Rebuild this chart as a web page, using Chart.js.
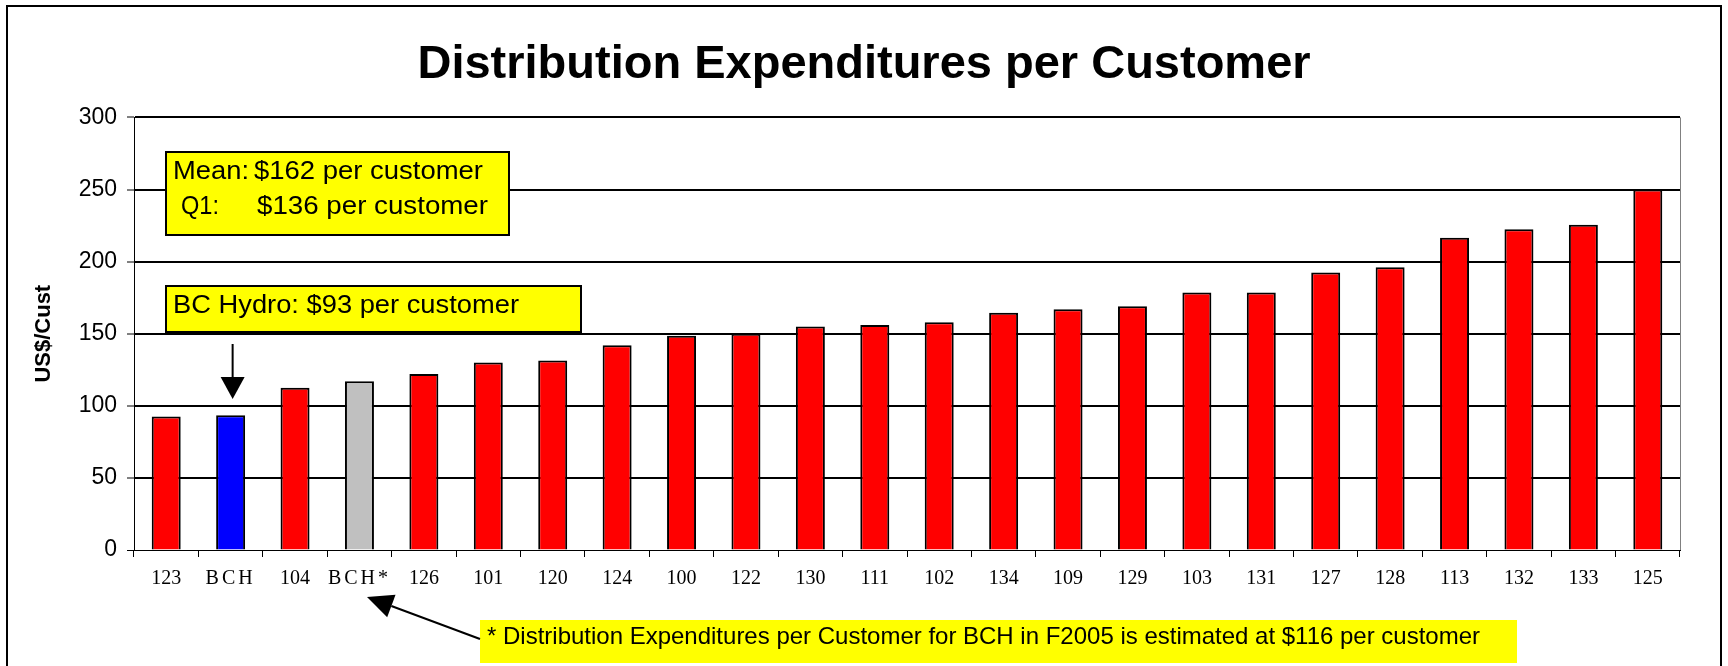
<!DOCTYPE html>
<html>
<head>
<meta charset="utf-8">
<title>Distribution Expenditures per Customer</title>
<script src="https://cdn.jsdelivr.net/npm/chart.js@4"></script>
<style>
  html, body { margin: 0; padding: 0; background: #fff; }
</style>
</head>
<body>
<canvas id="distChart" width="1728" height="666"></canvas>
<script>
// utilities, sorted by cost
const utilities = ['123', 'BCH', '104', 'BCH*', '126', '101', '120', '124', '100', '122', '130', '111',
                   '102', '134', '109', '129', '103', '131', '127', '128', '113', '132', '133', '125'];
// US$ per customer
const costPerCustomer = [92.5, 93.5, 112.5, 117, 122, 130, 131.5, 142, 148.5, 150, 155, 156,
                         158, 164.5, 167, 169, 178.5, 178.5, 192.5, 196, 216.5, 222.5, 225.5, 250];
const yMin = 0, yMax = 300, yStep = 50;

const meanLine = ['Mean:', '$162 per customer'];
const q1Line = ['Q1:', '$136 per customer'];
const bchNote = 'BC Hydro: $93 per customer';
const footNote = '* Distribution Expenditures per Customer for BCH in F2005 is estimated at $116 per customer';

const barColors = utilities.map(u => u === 'BCH' ? '#0000ff' : (u === 'BCH*' ? '#c0c0c0' : '#ff0000'));

const SANS = "'Liberation Sans', Arial, sans-serif";
const SERIF = "'Liberation Serif', 'Times New Roman', serif";

// draw text squeezed/stretched to a given width
function fitText(ctx, str, x, baseline, width) {
    const w = ctx.measureText(str).width;
    ctx.save();
    ctx.translate(x, baseline);
    ctx.scale(width / w, 1);
    ctx.fillText(str, 0, 0);
    ctx.restore();
}

function arrow(ctx, x1, y1, x2, y2, headLen, headW) {
    const a = Math.atan2(y2 - y1, x2 - x1);
    const bx = x2 - headLen * Math.cos(a), by = y2 - headLen * Math.sin(a);
    ctx.beginPath();
    ctx.moveTo(x1, y1);
    ctx.lineTo(bx, by);
    ctx.stroke();
    ctx.beginPath();
    ctx.moveTo(x2, y2);
    ctx.lineTo(bx + headW / 2 * Math.sin(a), by - headW / 2 * Math.cos(a));
    ctx.lineTo(bx - headW / 2 * Math.sin(a), by + headW / 2 * Math.cos(a));
    ctx.closePath();
    ctx.fill();
}

// x labels: letters spaced out like the old Excel render
const spacedLabels = {
    id: 'spacedLabels',
    beforeDraw(chart) {
        const xs = chart.scales.x;
        if (xs._spaced) return;
        const orig = xs.drawLabels.bind(xs);
        xs.drawLabels = function (area) {
            const c = this.ctx;
            const fill = c.fillText;
            c.fillText = function (t, x, y, mw) {
                const f = c.font;
                c.letterSpacing = /[A-Z]/.test(t) ? '3px' : '0px';
                c.font = f;
                fill.call(c, t, x, y, mw);
            };
            orig(area);
            delete c.fillText;
            c.letterSpacing = '0px';
        };
        xs._spaced = true;
    }
};

const notes = {
    id: 'notes',
    afterDraw(chart) {
        const ctx = chart.ctx;
        const area = chart.chartArea;
        const xs = chart.scales.x;
        ctx.save();

        // outer frame
        ctx.strokeStyle = '#000';
        ctx.lineWidth = 2;
        ctx.strokeRect(7, 6, 1714, 700);

        // right edge of the plot
        ctx.strokeStyle = '#808080';
        ctx.lineWidth = 1;
        ctx.beginPath();
        ctx.moveTo(Math.round(area.right) + 0.5, area.top);
        ctx.lineTo(Math.round(area.right) + 0.5, area.bottom);
        ctx.stroke();

        ctx.fillStyle = '#000';
        ctx.strokeStyle = '#000';
        ctx.textBaseline = 'alphabetic';
        ctx.textAlign = 'left';

        // mean / Q1 box
        ctx.fillStyle = '#ffff00';
        ctx.fillRect(166, 152, 343, 83);
        ctx.lineWidth = 2;
        ctx.strokeRect(166, 152, 343, 83);
        ctx.fillStyle = '#000';
        ctx.font = '25px ' + SANS;
        fitText(ctx, meanLine[0], 173, 179, 76);
        fitText(ctx, meanLine[1], 254, 179, 229);
        fitText(ctx, q1Line[0], 181, 214, 38);
        fitText(ctx, q1Line[1], 257, 214, 231);

        // BC Hydro box
        ctx.fillStyle = '#ffff00';
        ctx.fillRect(166, 286, 415, 46);
        ctx.strokeRect(166, 286, 415, 46);
        ctx.fillStyle = '#000';
        fitText(ctx, bchNote, 173, 313, 346);

        // arrow down to the BCH bar
        const bx = xs.getPixelForValue(1) + 2;
        ctx.lineWidth = 2;
        arrow(ctx, bx, 344, bx, 399, 22, 24);

        // footnote
        ctx.fillStyle = '#ffff00';
        ctx.fillRect(480, 620, 1037, 43);
        ctx.fillStyle = '#000';
        ctx.font = '24px ' + SANS;
        fitText(ctx, footNote, 487, 644, 993);

        // arrow up to the BCH* label
        arrow(ctx, 480, 639, 367, 597, 26, 24);

        ctx.restore();
    }
};

new Chart(document.getElementById('distChart'), {
    type: 'bar',
    data: {
        labels: utilities,
        datasets: [{
            data: costPerCustomer,
            backgroundColor: barColors,
            borderColor: '#000',
            borderWidth: 2,
            barPercentage: 0.45,
            categoryPercentage: 1.0
        }]
    },
    options: {
        responsive: false,
        animation: false,
        devicePixelRatio: 1,
        layout: { padding: 0 },
        plugins: {
            legend: { display: false },
            tooltip: { enabled: false },
            title: {
                display: true,
                text: 'Distribution Expenditures per Customer',
                color: '#000',
                font: { family: SANS, size: 47, weight: 'bold' },
                padding: { top: 37, bottom: 24 }
            }
        },
        scales: {
            x: {
                afterFit: s => { s.height = 116; },
                grid: {
                    display: true,
                    drawOnChartArea: false,
                    drawTicks: true,
                    tickLength: 7,
                    color: '#000',
                    lineWidth: 1
                },
                border: { color: '#000', width: 1 },
                ticks: {
                    color: '#000',
                    font: { family: SERIF, size: 20 },
                    padding: 10,
                    maxRotation: 0,
                    autoSkip: false
                }
            },
            y: {
                min: yMin,
                max: yMax,
                afterFit: s => { s.width = 134; },
                grid: {
                    color: '#000',
                    lineWidth: c => (c.tick && c.tick.value === 0) ? 1 : 2,
                    tickLength: 7,
                    tickColor: '#000',
                    tickWidth: 1
                },
                border: { color: '#000', width: 1 },
                ticks: {
                    stepSize: yStep,
                    color: '#000',
                    font: { family: SANS, size: 23 },
                    padding: 10
                },
                title: {
                    display: true,
                    text: 'US$/Cust',
                    color: '#000',
                    font: { family: SANS, size: 22, weight: 'bold' },
                    padding: { top: 31, bottom: 0 }
                }
            },
            // empty right margin, so the title centres on the whole page
            margin: {
                position: 'right',
                afterFit: s => { s.width = 48; },
                grid: { display: false },
                border: { display: false },
                ticks: { display: false }
            }
        }
    },
    plugins: [spacedLabels, notes]
});
</script>
</body>
</html>
